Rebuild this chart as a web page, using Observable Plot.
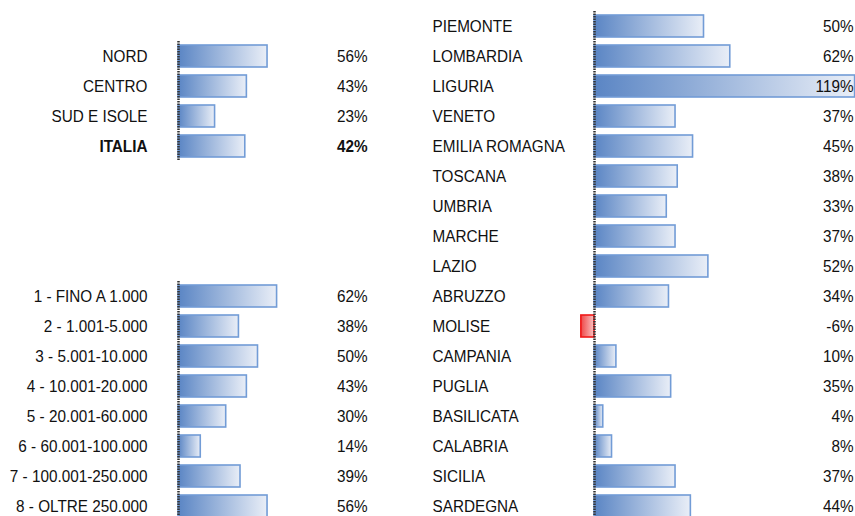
<!DOCTYPE html>
<html>
<head>
<meta charset="utf-8">
<script src="https://cdn.jsdelivr.net/npm/d3@7"></script>
<script src="https://cdn.jsdelivr.net/npm/@observablehq/plot@0.6"></script>
<style>
  html, body { margin: 0; padding: 0; background: #fff; }
  #chart { display: flex; flex-direction: row; width: 855px; height: 516px; overflow: hidden; }
  #chart svg { display: block; }
</style>
</head>
<body>
<div id="chart"></div>
<script>
// ---- data ----
const areaLabels = ["NORD", "CENTRO", "SUD E ISOLE", "ITALIA"];
const areaValues = [56, 43, 23, 42];
const areaRows = [1, 2, 3, 4];

const sizeLabels = ["1 - FINO A 1.000", "2 - 1.001-5.000", "3 - 5.001-10.000", "4 - 10.001-20.000",
  "5 - 20.001-60.000", "6 - 60.001-100.000", "7 - 100.001-250.000", "8 - OLTRE 250.000"];
const sizeValues = [62, 38, 50, 43, 30, 14, 39, 56];
const sizeRows = [9, 10, 11, 12, 13, 14, 15, 16];

const regionLabels = ["PIEMONTE", "LOMBARDIA", "LIGURIA", "VENETO", "EMILIA ROMAGNA", "TOSCANA", "UMBRIA",
  "MARCHE", "LAZIO", "ABRUZZO", "MOLISE", "CAMPANIA", "PUGLIA", "BASILICATA", "CALABRIA", "SICILIA", "SARDEGNA"];
const regionValues = [50, 62, 119, 37, 45, 38, 33, 37, 52, 34, -6, 10, 35, 4, 8, 37, 44];

const boldLabels = ["ITALIA"];

// ---- tables ----
const leftData = [
  ...areaLabels.map((label, i) => ({label, value: areaValues[i], row: areaRows[i]})),
  ...sizeLabels.map((label, i) => ({label, value: sizeValues[i], row: sizeRows[i]}))
];
const rightData = regionLabels.map((label, i) => ({label, value: regionValues[i], row: i}));

const rows = d3.range(17);
const padIn = 0.27;
const stepApprox = 511 / 17;
const ext = -(padIn * stepApprox) / 2;
const font = "'Liberation Sans', Arial, sans-serif";
const pct = d => `${d.value}%`;

function addDefs(svg, prefix) {
  const ns = "http://www.w3.org/2000/svg";
  const defs = document.createElementNS(ns, "defs");
  const mk = (id, c0, c1) => {
    const g = document.createElementNS(ns, "linearGradient");
    g.setAttribute("id", id);
    g.setAttribute("x1", "0"); g.setAttribute("x2", "1");
    g.setAttribute("y1", "0"); g.setAttribute("y2", "0");
    [[0, c0], [1, c1]].forEach(([o, c]) => {
      const s = document.createElementNS(ns, "stop");
      s.setAttribute("offset", o);
      s.setAttribute("stop-color", c);
      g.appendChild(s);
    });
    defs.appendChild(g);
  };
  mk(prefix + "Blue", "#5a85c4", "#e9eef7");
  mk(prefix + "Red", "#ee4848", "#fbc2c2");
  svg.insertBefore(defs, svg.firstChild);
}

function condense(svg) {
  svg.querySelectorAll("text").forEach(t => {
    const x = parseFloat(t.getAttribute("x")) || 0;
    const tr = t.getAttribute("transform") || "";
    t.setAttribute("transform", `${tr} translate(${x},0) scale(0.9,1) translate(${-x},0)`);
  });
}

const common = {
  height: 516,
  marginTop: 10,
  marginBottom: 0,
  y: {domain: rows, range: [10, 521], paddingInner: padIn, paddingOuter: padIn / 2, axis: null},
  style: {fontFamily: font, fontSize: "17px", background: "white", color: "#000", overflow: "visible"}
};

// ---- left panel ----
const left = Plot.plot({
  ...common,
  width: 420,
  marginLeft: 147,
  marginRight: 53,
  x: {domain: [0, 100], range: [178, 337], axis: null},
  marks: [
    Plot.barX(leftData, {x: "value", y: "row", fill: "url(#LBlue)", stroke: "#729cd6", strokeWidth: 1.6}),
    Plot.ruleX(leftData, {x: 0, y1: "row", y2: "row", insetTop: ext, insetBottom: ext, stroke: "#333", strokeWidth: 2.5, strokeDasharray: "1.5,1"}),
    Plot.text(leftData, {filter: d => !boldLabels.includes(d.label), y: "row", text: "label", frameAnchor: "left", textAnchor: "end", fill: "#111"}),
    Plot.text(leftData, {filter: d => boldLabels.includes(d.label), y: "row", text: "label", frameAnchor: "left", textAnchor: "end", fontWeight: "bold", fill: "#111"}),
    Plot.text(leftData, {filter: d => !boldLabels.includes(d.label), y: "row", text: pct, frameAnchor: "right", textAnchor: "end", fill: "#111"}),
    Plot.text(leftData, {filter: d => boldLabels.includes(d.label), y: "row", text: pct, frameAnchor: "right", textAnchor: "end", fontWeight: "bold", fill: "#111"})
  ]
});

// ---- right panel ----
const right = Plot.plot({
  ...common,
  width: 435,
  marginLeft: 12,
  marginRight: 2,
  x: {domain: [0, 100], range: [174, 393], axis: null},
  marks: [
    Plot.barX(rightData, {filter: d => d.value >= 0, x: "value", y: "row", fill: "url(#RBlue)", stroke: "#729cd6", strokeWidth: 1.6}),
    Plot.barX(rightData, {filter: d => d.value < 0, x: "value", y: "row", fill: "url(#RRed)", stroke: "#f01818", strokeWidth: 1.6}),
    Plot.ruleX(rightData, {x: 0, y1: "row", y2: "row", insetTop: ext, insetBottom: ext, stroke: "#333", strokeWidth: 2.5, strokeDasharray: "1.5,1"}),
    Plot.text(rightData, {y: "row", text: "label", frameAnchor: "left", textAnchor: "start", fill: "#111"}),
    Plot.text(rightData, {y: "row", text: pct, frameAnchor: "right", textAnchor: "end", fill: "#111"})
  ]
});

addDefs(left, "L");
addDefs(right, "R");
condense(left);
condense(right);

const chart = document.getElementById("chart");
chart.appendChild(left);
chart.appendChild(right);
</script>
</body>
</html>
